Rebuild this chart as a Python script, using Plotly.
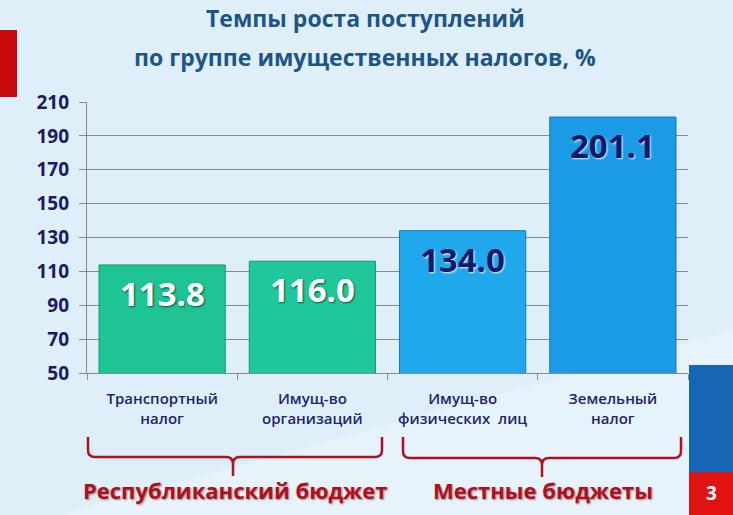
import plotly.graph_objects as go

# ---------------- data ----------------
categories = ["Транспортный<br>налог", "Имущ-во<br>организаций",
              "Имущ-во<br>физических  лиц", "Земельный<br>налог"]
values = [113.8, 116.0, 134.0, 201.1]
value_labels = ["113.8", "116.0", "134.0", "201.1"]
groups = ["Республиканский бюджет", "Местные бюджеты"]
y_ticks = [50, 70, 90, 110, 130, 150, 170, 190, 210]
title_lines = ["Темпы роста поступлений", "по группе имущественных налогов, %"]
page_number = "3"

# ---------------- styles ----------------
W, H = 733, 515
L, R, T, B = 87, 688, 102, 373  # plot area in pixels
bar_fill = ["#1ec493", "#1fc79a", "#1fa9ec", "#1b9ae6"]
bar_line = ["#129a6e", "#129a6e", "#1576bf", "#1576bf"]
label_colors = ["white", "white", "#17176b", "#17176b"]
label_shadows = ["1px 1px 2px rgba(0,60,40,0.8)", "1px 1px 2px rgba(0,60,40,0.8)",
                 "1px 1px 2px rgba(255,255,255,0.9)", "1px 1px 2px rgba(255,255,255,0.9)"]
navy = "#1a1a66"
brace_red = "#b0101e"
BG = "#dfeffa"
FONT = "Open Sans"


def px(x):
    return (x - L) / (R - L)


def py(y):
    return (B - y) / (B - T)


fig = go.Figure()
fig.add_trace(go.Bar(
    x=categories, y=values,
    marker=dict(color=bar_fill, line=dict(color=bar_line, width=1)),
    hoverinfo="x+y",
))

annotations = []
for c, v, t, col, sh in zip(categories, values, value_labels, label_colors, label_shadows):
    annotations.append(dict(
        x=c, y=v, xref="x", yref="y", text=t, showarrow=False,
        yanchor="top", yshift=-4,
        font=dict(family=FONT, size=33, color=col, shadow=sh, weight="bold")))

# title (two lines)
for line, ycen in zip(title_lines, [18, 57]):
    annotations.append(dict(x=px(365), y=py(ycen), xref="paper", yref="paper",
                            xanchor="center", yanchor="middle", showarrow=False,
                            text=line,
                            font=dict(family=FONT, size=23, color="#1d5588", weight="bold")))

# group labels
for g, cx in zip(groups, [235, 543]):
    annotations.append(dict(x=px(cx), y=py(490), xref="paper", yref="paper",
                            xanchor="center", yanchor="middle", showarrow=False,
                            text=g,
                            font=dict(family=FONT, size=22, color=brace_red, weight="bold",
                                      shadow="1px 1px 2px rgba(90,0,0,0.45)")))
# page number
annotations.append(dict(x=px(711), y=py(493), xref="paper", yref="paper",
                        xanchor="center", yanchor="middle", showarrow=False,
                        text=page_number,
                        font=dict(family=FONT, size=19, color="white", weight="bold")))


def brace(x0, xm, x1, ytop, ybot, ystem, r=7):
    pts = [
        f"M {px(x0)},{py(ytop)}",
        f"L {px(x0)},{py(ybot - r)}",
        f"Q {px(x0)},{py(ybot)} {px(x0 + r)},{py(ybot)}",
        f"L {px(xm - r)},{py(ybot)}",
        f"Q {px(xm)},{py(ybot)} {px(xm)},{py(ybot + r)}",
        f"L {px(xm)},{py(ystem)}",
        f"M {px(xm)},{py(ybot + r)}",
        f"Q {px(xm)},{py(ybot)} {px(xm + r)},{py(ybot)}",
        f"L {px(x1 - r)},{py(ybot)}",
        f"Q {px(x1)},{py(ybot)} {px(x1)},{py(ybot - r)}",
        f"L {px(x1)},{py(ytop)}",
    ]
    return " ".join(pts)


shapes = [
    # light band near the bottom
    dict(type="path", xref="paper", yref="paper", layer="below",
         path=f"M {px(60)},{py(515)} L {px(733)},{py(330)} L {px(733)},{py(515)} Z",
         fillcolor="rgba(255,255,255,0.25)", line=dict(width=0)),
    # left red decoration
    dict(type="rect", xref="paper", yref="paper", layer="above",
         x0=px(0), x1=px(17), y0=py(30), y1=py(97),
         fillcolor="#c90a0a", line=dict(width=0)),
    # right blue block
    dict(type="rect", xref="paper", yref="paper", layer="above",
         x0=px(689), x1=px(733), y0=py(365), y1=py(472),
         fillcolor="#1766b5", line=dict(width=0)),
    # right red block
    dict(type="rect", xref="paper", yref="paper", layer="below",
         x0=px(689), x1=px(733), y0=py(472), y1=py(515),
         fillcolor="#e01212", line=dict(width=0)),
    # braces
    dict(type="path", xref="paper", yref="paper",
         path=brace(88, 233, 382, 437, 457, 476),
         line=dict(color=brace_red, width=2.5)),
    dict(type="path", xref="paper", yref="paper",
         path=brace(403, 542, 681, 437, 458, 477),
         line=dict(color=brace_red, width=2.5)),
]

fig.update_layout(
    width=W, height=H,
    margin=dict(l=L, r=W - R, t=T, b=H - B, pad=0),
    paper_bgcolor=BG, plot_bgcolor="rgba(0,0,0,0)",
    bargap=0.16, showlegend=False,
    annotations=annotations, shapes=shapes,
    font=dict(family=FONT),
)
fig.update_xaxes(
    type="category", tickson="boundaries", ticks="outside", ticklen=6,
    tickcolor="#8a8a8a", showline=True, linecolor="#8a8a8a", linewidth=1.3,
    showgrid=False, tickfont=dict(family=FONT, size=15, color="#23236e", weight=600),
    ticklabelstandoff=12,
)
fig.update_yaxes(
    range=[50, 210], tickvals=y_ticks, ticks="outside", ticklen=7,
    tickcolor="#8a8a8a", showline=True, linecolor="#8a8a8a", linewidth=1.3,
    showgrid=True, gridcolor="#8a8a8a", gridwidth=1.3, zeroline=False,
    tickfont=dict(family=FONT, size=19, color=navy, weight="bold"),
    ticklabelstandoff=6,
)

fig.write_html(
    "out.html",
    config={"displayModeBar": False},
    post_script=("document.body.style.margin='0';document.body.style.padding='0';"
                 "document.body.style.overflow='hidden';"
                 "document.body.style.background='" + BG + "';"),
)
